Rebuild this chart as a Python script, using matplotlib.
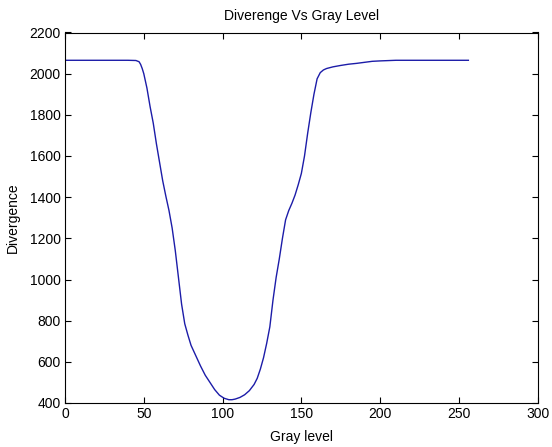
import matplotlib
matplotlib.use("Agg")
import matplotlib.pyplot as plt

gray_level = [1, 20, 40, 45, 47, 48, 49, 50, 52, 54, 56, 58, 60, 62, 64, 66, 68, 70, 72, 74,
              76, 78, 80, 83, 86, 89, 92, 95, 98, 101, 104, 106, 108, 111, 114, 117, 120,
              122, 124, 126, 128, 130, 132, 134, 136, 138, 140, 142, 144, 146, 148, 150,
              152, 154, 156, 158, 160, 162, 164, 166, 170, 175, 180, 185, 190, 195, 200,
              210, 230, 256]
divergence = [2065, 2065, 2065, 2064, 2058, 2045, 2025, 2000, 1930, 1840, 1760, 1660, 1570,
              1480, 1405, 1335, 1250, 1140, 1010, 880, 785, 730, 680, 630, 580, 535, 500,
              465, 438, 423, 416, 416, 419, 427, 440, 460, 490, 520, 565, 620, 690, 770,
              900, 1010, 1100, 1200, 1290, 1335, 1370, 1410, 1460, 1515, 1600, 1710, 1810,
              1900, 1975, 2005, 2018, 2025, 2033, 2040, 2046, 2050, 2055, 2060, 2062, 2065,
              2065, 2065]

xticks = [0, 50, 100, 150, 200, 250, 300]
yticks = [400, 600, 800, 1000, 1200, 1400, 1600, 1800, 2000, 2200]

plt.rcParams['font.family'] = ['Liberation Sans', 'DejaVu Sans']

fig = plt.figure(figsize=(5.52, 4.47), dpi=100)
ax = fig.add_axes([65/552, 44/447, (537.7-65)/552, (403-32.5)/447])
ax.plot(gray_level, divergence, color='#1c1ca8', linewidth=1.0)
ax.set_xlim(0, 300)
ax.set_ylim(400, 2200)
ax.set_xticks(xticks)
ax.set_yticks(yticks)
ax.tick_params(direction='in', top=True, right=True, labelsize=10, length=4, width=0.8, pad=3)
for s in ax.spines.values():
    s.set_linewidth(0.8)
ax.set_title('Diverenge Vs Gray Level', fontsize=10, pad=9)
ax.set_xlabel('Gray level', fontsize=10, labelpad=6)
ax.set_ylabel('Divergence', fontsize=10, labelpad=7)
fig.savefig('out.png', dpi=100)
